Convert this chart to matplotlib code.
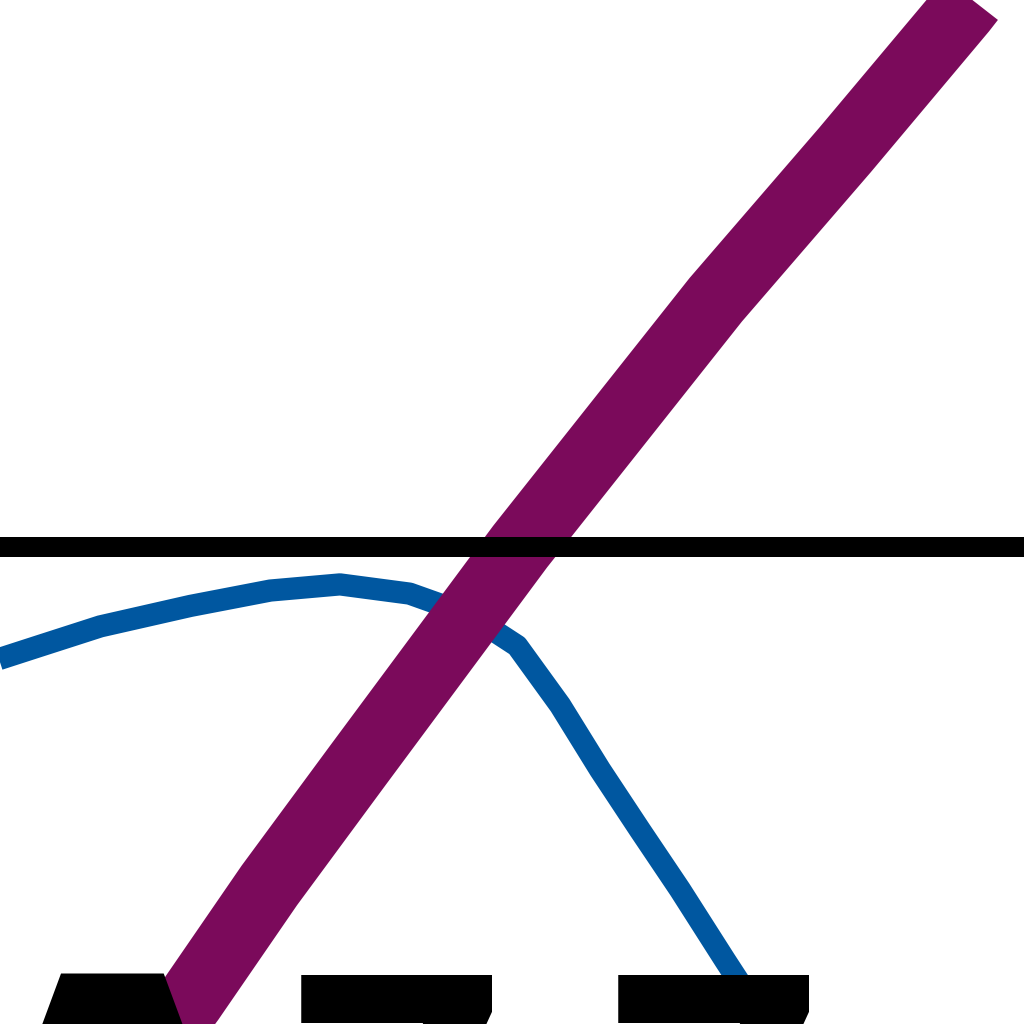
import matplotlib
matplotlib.use("Agg")
import matplotlib.pyplot as plt

# valeurs (repère : x 0..10, y avec la ligne zéro au milieu)
zero_level = 0.0

purple_x = [1.14, 1.86, 2.63, 3.50, 5.08, 6.99, 8.25, 9.40, 9.86]
purple_y = [-5.41, -4.43, -3.31, -2.13, 0.00, 2.41, 3.87, 5.24, 5.83]

blue_x = [-0.29, 0.39, 0.98, 1.86, 2.64, 3.32, 4.00, 4.59, 5.05, 5.47, 5.86, 6.25, 6.64, 7.08, 7.62]
blue_y = [-1.19, -0.97, -0.78, -0.58, -0.43, -0.37, -0.46, -0.67, -0.97, -1.55, -2.18, -2.77, -3.35, -4.04, -4.87]

label_x = [1.10, 3.89, 6.99]
label_txt = ["A", "7", "7"]

# taille et ligne de base de chaque étiquette (le haut des lettres tombe vers y = -4.18)
label_size = [330, 250, 250]
label_base = [-7.44, -6.65, -6.65]

fig = plt.figure(figsize=(10.24, 10.24), dpi=100)
ax = fig.add_axes([0, 0, 1, 1])

ax.plot(blue_x, blue_y, color="#0057a0", linewidth=16, solid_capstyle="butt", solid_joinstyle="round", zorder=1)
ax.plot(purple_x, purple_y, color="#7b0a5b", linewidth=49, solid_capstyle="butt", solid_joinstyle="round", zorder=2)
ax.axhline(zero_level, color="black", linewidth=14.4, zorder=3)

for x, s, fs, yb in zip(label_x, label_txt, label_size, label_base):
    ax.text(x, yb, s, fontsize=fs, fontweight="bold", color="black",
            ha="center", va="baseline", zorder=4, clip_on=False)

ax.set_xlim(0, 10)
ax.set_ylim(-4.663, 5.337)
ax.axis("off")

fig.savefig("out.png", dpi=100)
